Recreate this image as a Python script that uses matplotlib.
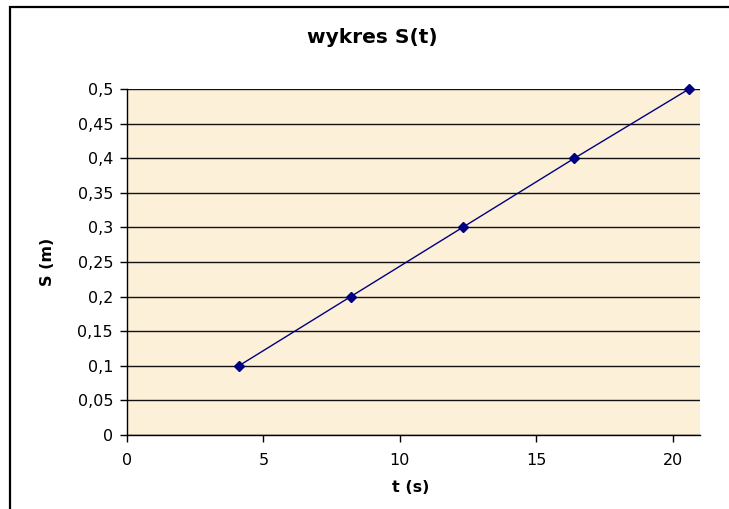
import matplotlib
matplotlib.use("Agg")
import matplotlib.pyplot as plt
from matplotlib.patches import Rectangle
from matplotlib.ticker import FuncFormatter, MultipleLocator

t_values = [4.1, 8.2, 12.3, 16.4, 20.6]
s_values = [0.1, 0.2, 0.3, 0.4, 0.5]
title = "wykres S(t)"
xlabel = "t (s)"
ylabel = "S (m)"

plt.rcParams['font.family'] = ['DejaVu Sans']

W, H = 729, 509
fig = plt.figure(figsize=(W / 100, H / 100), dpi=100)
fig.patch.set_facecolor("white")

# outer chart frame
fig.patches.append(Rectangle((10 / W, -0.1), 1.2, (509 - 7) / H + 0.1,
                             transform=fig.transFigure, fill=False,
                             edgecolor="black", linewidth=1.6, zorder=0))

ax = fig.add_axes([127 / W, (509 - 435) / H, (700 - 127) / W, (435 - 89) / H])
ax.set_facecolor("#FCF0D8")

ax.set_xlim(0, 21)
ax.set_ylim(0, 0.5)
ax.xaxis.set_major_locator(MultipleLocator(5))
ax.yaxis.set_major_locator(MultipleLocator(0.05))

def comma_fmt(v, pos):
    s = f"{v:.2f}".rstrip("0").rstrip(".")
    return s.replace(".", ",")

ax.yaxis.set_major_formatter(FuncFormatter(comma_fmt))
ax.xaxis.set_major_formatter(FuncFormatter(lambda v, p: f"{int(round(v))}"))

ax.grid(axis="y", color="#111111", linewidth=1.0)
ax.set_axisbelow(True)
for side in ("top", "right"):
    ax.spines[side].set_visible(False)
for side in ("left", "bottom"):
    ax.spines[side].set_color("black")
    ax.spines[side].set_linewidth(1.0)

ax.tick_params(axis="both", direction="out", length=5, width=1,
               labelsize=11.5, colors="black")
ax.tick_params(axis="y", pad=5)
ax.tick_params(axis="x", pad=8)

ax.plot(t_values, s_values, color="#000080", linewidth=1.0,
        marker="D", markersize=5.5, markerfacecolor="#000080",
        markeredgecolor="#000080", clip_on=False, zorder=3)

fig.text(372 / W, 1 - 43 / H, title, ha="center", va="baseline",
         fontsize=14.5, fontweight="bold")

ax.set_xlabel(xlabel, fontsize=11.5, fontweight="bold")
ax.set_ylabel(ylabel, fontsize=11.5, fontweight="bold")
ax.xaxis.set_label_coords((411 - 127) / 573, (435 - 487) / 346)
ax.xaxis.label.set_verticalalignment("center")
ax.yaxis.set_label_coords((47 - 127) / 573, 0.5)
ax.yaxis.label.set_verticalalignment("center")

fig.savefig("out.png", dpi=100)
